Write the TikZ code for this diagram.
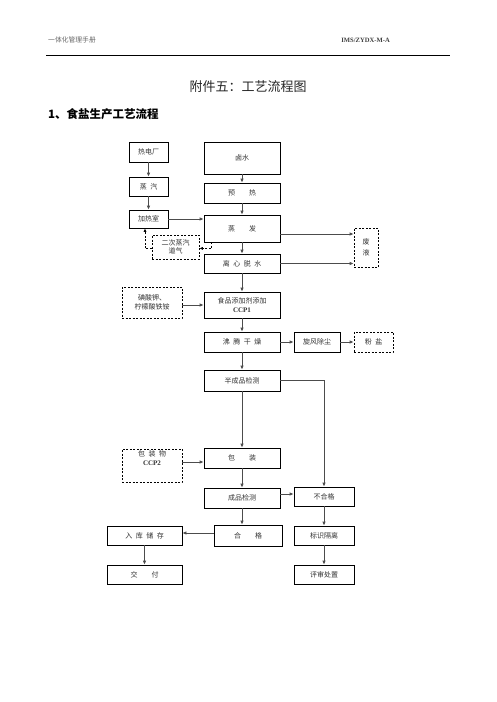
\documentclass[tikz,border=0pt]{standalone}
\usepackage{fontspec}
\setmainfont{Liberation Serif}
\newfontfamily\cjk{Noto Sans CJK SC}
\usetikzlibrary{arrows.meta,calc}
\tikzset{
  bx/.style={draw=black,line width=0.8pt,inner sep=0pt,align=center,font=\cjk\fontsize{7}{8.6}\selectfont,text=black!80},
  dbx/.style={bx,dash pattern=on 2pt off 1.5pt},
  ar/.style={draw=black!70,line width=1pt,-{Latex[length=4pt,width=3.6pt]}},
  dar/.style={draw=black,line width=0.8pt,dash pattern=on 2pt off 1.5pt,-{Latex[length=3.5pt,width=3.2pt]}},
  dln/.style={draw=black,line width=0.8pt,dash pattern=on 2pt off 1.5pt}
}
\newcommand{\gsp}{\hspace{0.5em}}
\newcommand{\wsp}{\hspace{2em}}
\begin{document}
\begin{tikzpicture}[x=1pt,y=-1pt]
\useasboundingbox[fill=white] (0,0) rectangle (496,702);
% header
\node[anchor=west,inner sep=0pt,font=\cjk\fontsize{6.8}{8}\selectfont,text=black!60] (h1) at (48,40) {一体化管理手册};
\node[anchor=east,inner sep=0pt,font=\fontsize{6.6}{8}\selectfont\bfseries,text=black!75] (h2) at (390,40) {IMS/ZYDX-M-A};
\draw[line width=0.8pt] (46,55) coordinate (hl1) -- (450,55) coordinate (hl2);
\node[font=\cjk\fontsize{13}{15}\selectfont,text=black!85] (title) at (248,87) {附件五：工艺流程图};
\node[anchor=west,inner sep=0pt,font=\cjk\fontsize{11.5}{13}\selectfont\bfseries] (sub) at (48,114) {1、食盐生产工艺流程};
% boxes
\node[bx,minimum width=39pt,minimum height=20pt] (rd) at (148.5,152) {热电厂};
\node[bx,minimum width=39pt,minimum height=19pt] (zq) at (148.5,186.5) {蒸\gsp 汽};
\node[bx,minimum width=39pt,minimum height=18pt] (jrs) at (148.5,219) {加热室};
\node[bx,minimum width=76pt,minimum height=32pt] (ls) at (242,158) {卤水};
\node[bx,minimum width=76pt,minimum height=20pt] (yr) at (242,193) {预\wsp 热};
\node[bx,minimum width=76pt,minimum height=27pt] (zf) at (242,228.5) {蒸\wsp 发};
\node[dbx,minimum width=47pt,minimum height=24pt] (ec) at (175.5,247) {二次蒸汽\\道气};
\node[bx,minimum width=76pt,minimum height=19pt] (lx) at (242,263.5) {离\gsp 心\gsp 脱\gsp 水};
\node[dbx,minimum width=24pt,minimum height=39pt] (fy) at (366,247.5) {废\\[2pt]液};
\node[dbx,minimum width=60pt,minimum height=31pt] (dj) at (152,302.5) {碘酸钾、\\柠檬酸铁铵};
\node[bx,minimum width=76pt,minimum height=26pt] (sp) at (242,305) {食品添加剂添加\\{\rmfamily\bfseries CCP1}};
\node[bx,minimum width=76pt,minimum height=20pt] (ft) at (242,342) {沸\gsp 腾\gsp 干\gsp 燥};
\node[bx,minimum width=46pt,minimum height=20pt] (xf) at (317,342) {旋风除尘};
\node[dbx,minimum width=39pt,minimum height=20pt] (fys) at (373.5,342) {粉\gsp 盐};
\node[bx,minimum width=76pt,minimum height=21pt] (bcp) at (242,380.5) {半成品检测};
\node[bx,minimum width=76pt,minimum height=20pt] (bz) at (242,458) {包\wsp 装};
\node[dbx,minimum width=60pt,minimum height=33pt] (bzw) at (152,465.5) {包\gsp 装\gsp 物\\{\rmfamily\bfseries CCP2}\\[6pt]};
\node[bx,minimum width=76pt,minimum height=20pt] (cp) at (242,498) {成品检测};
\node[bx,minimum width=60pt,minimum height=19pt] (bhg) at (324,496.5) {不合格};
\node[bx,minimum width=68pt,minimum height=21pt] (hg) at (248,535.5) {合\wsp 格};
\node[bx,minimum width=75pt,minimum height=19pt] (rk) at (144.5,535.5) {入\gsp 库\gsp 储\gsp 存};
\node[bx,minimum width=60pt,minimum height=19pt] (bs) at (324,535.5) {标识隔离};
\node[bx,minimum width=75pt,minimum height=19pt] (jf) at (144.5,574.5) {交\wsp 付};
\node[bx,minimum width=60pt,minimum height=19pt] (ps) at (324,574.5) {评审处置};
% connectors
\draw[ar] (rd) -- (zq);
\draw[ar] (zq) -- (jrs);
\draw[ar] (ls) -- (yr);
\draw[ar] (yr) -- (zf);
\draw[ar] (jrs.east) -- (jrs.east -| zf.west);
\draw[ar] (zf) -- (lx);
\coordinate (f1) at ($(zf.east)+(0,5.5)$);
\draw[ar] (f1) -- (f1 -| fy.west);
\draw[ar] (lx.east) -- (lx.east -| fy.west);
\coordinate (e1) at ($(zf.south west)+(8,0)$);
\coordinate (e2) at ($(e1)+(0,6)$);
\draw[dar] (e1) -- (e2) -- (e2 -| ec.east);
\coordinate (e3) at (ec.west |- e2);
\coordinate (e4) at ($(jrs.south)+(-3.5,0)$);
\draw[dln] (e3) -- (e3 -| e4);
\draw[dar] (e3 -| e4) -- (e4);
\draw[ar] (lx) -- (sp);
\draw[ar] (dj.east |- sp) -- (sp.west |- sp);
\draw[ar] (sp) -- (ft);
\draw[ar] (ft) -- (xf);
\draw[ar] (xf) -- (fys);
\draw[ar] (ft) -- (bcp);
\draw[ar] (bcp) -- (bz);
\coordinate (c1) at (bhg.north |- bcp.east);
\draw[ar] (bcp.east) -- (c1) -- (bhg.north);
\coordinate (p1) at (0,462);
\draw[ar] (bzw.east |- p1) -- (bz.west |- p1);
\draw[ar] (bz) -- (cp);
\coordinate (p2) at (0,494);
\draw[ar] (cp.east |- p2) -- (bhg.west |- p2);
\draw[ar] (cp.south) -- (cp.south |- hg.north);
\coordinate (p3) at (0,533);
\draw[ar] (hg.west |- p3) -- (rk.east |- p3);
\draw[ar] (rk) -- (jf);
\draw[ar] (bhg) -- (bs);
\draw[ar] (bs) -- (ps);
\end{tikzpicture}
\end{document}
